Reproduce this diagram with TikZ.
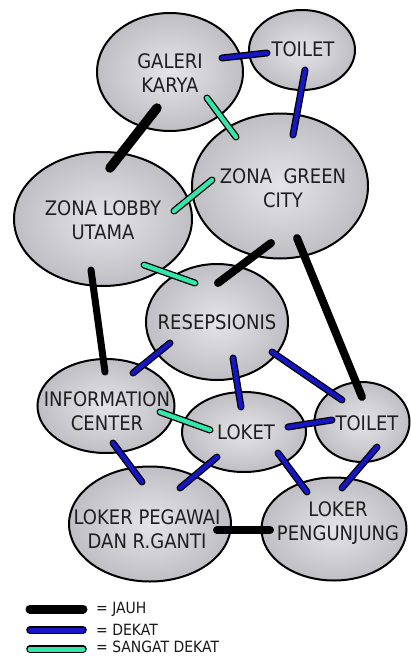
\documentclass[tikz,border=0pt]{standalone}
\usepackage{fontspec}
\setmainfont[FakeStretch=0.9]{DejaVu Sans}
\usetikzlibrary{shapes.geometric}
\definecolor{dkblue}{RGB}{22,22,196}
\definecolor{teal2}{RGB}{52,230,170}
\definecolor{blobin}{RGB}{228,228,232}
\definecolor{blobout}{RGB}{190,190,196}
\tikzset{
  blob/.style={ellipse, draw=black, line width=2pt, inner sep=0pt,
    inner color=blobin, outer color=blobout},
  lbl/.style={font=\fontsize{20}{24}\selectfont, align=center, inner sep=0pt, text=black!88},
  jauh/.style={draw=black, line width=8pt, line cap=round},
  dekat/.style={draw=black, line width=1.3pt, double=dkblue, double distance=4.4pt, line cap=round},
  sdekat/.style={draw=black, line width=1.3pt, double=teal2, double distance=4.4pt, line cap=round},
  legtxt/.style={font=\fontsize{15.5}{18}\selectfont, anchor=west, inner sep=0pt, text=black!90}
}
\begin{document}
\begin{tikzpicture}[x=1pt,y=-1pt]
\useasboundingbox (0,0) rectangle (411,656);
% ellipses
\node[blob, minimum width=146pt, minimum height=118pt] (gal) at (170,72) {};
\node[blob, minimum width=106pt, minimum height=80pt] (tt) at (302,50) {};
\node[blob, minimum width=176pt, minimum height=145pt] (grn) at (280,186) {};
\node[blob, minimum width=178pt, minimum height=134pt] (lob) at (103,219) {};
\node[blob, minimum width=142pt, minimum height=116pt] (res) at (217,322) {};
\node[blob, minimum width=137pt, minimum height=94pt] (inf) at (106,406) {};
\node[blob, minimum width=124pt, minimum height=80pt] (lok) at (244,432) {};
\node[blob, minimum width=95pt, minimum height=80pt] (tb) at (362,422) {};
\node[blob, minimum width=162pt, minimum height=115pt] (lpg) at (150,524) {};
\node[blob, minimum width=145pt, minimum height=103pt] (lpj) at (334,529) {};
% labels
\node[lbl] (galt) at (170,73) {GALERI\\KARYA};
\node[lbl] (ttt) at (303,49) {TOILET};
\node[lbl] (grnt) at (283,188) {ZONA~~GREEN\\CITY};
\node[lbl] (lobt) at (103,220) {ZONA LOBBY\\UTAMA};
\node[lbl] (rest) at (217,322) {RESEPSIONIS};
\node[lbl] (inft) at (107,411) {INFORMATION\\CENTER};
\node[lbl] (lokt) at (246,432) {LOKET};
\node[lbl] (tbt) at (367,423) {TOILET};
\node[lbl] (lpgt) at (147,529) {LOKER PEGAWAI\\DAN R.GANTI};
\node[lbl] (lpjt) at (338,523) {LOKER\\PENGUNJUNG};
% connector ends
\coordinate (a1) at (222,58);  \coordinate (a2) at (267,53);
\coordinate (b1) at (305,70);  \coordinate (b2) at (293,135);
\coordinate (c1) at (207,98);  \coordinate (c2) at (236,137);
\coordinate (d1) at (157,108); \coordinate (d2) at (110,168);
\coordinate (e1) at (174,211); \coordinate (e2) at (212,180);
\coordinate (f1) at (144,265); \coordinate (f2) at (195,283);
\coordinate (g1) at (271,243); \coordinate (g2) at (218,283);
\coordinate (h1) at (297,238); \coordinate (h2) at (362,397);
\coordinate (i1) at (91,270);  \coordinate (i2) at (105,372);
\coordinate (j1) at (170,343); \coordinate (j2) at (133,373);
\coordinate (k1) at (233,358); \coordinate (k2) at (241,407);
\coordinate (l1) at (272,352); \coordinate (l2) at (342,400);
\coordinate (m1) at (160,412); \coordinate (m2) at (210,430);
\coordinate (n1) at (288,427); \coordinate (n2) at (332,420);
\coordinate (o1) at (113,443); \coordinate (o2) at (142,482);
\coordinate (p1) at (217,457); \coordinate (p2) at (180,488);
\coordinate (q1) at (278,453); \coordinate (q2) at (307,492);
\coordinate (r1) at (377,447); \coordinate (r2) at (342,488);
\coordinate (s1) at (217,530); \coordinate (s2) at (270,530);
% connectors
\draw[dekat] (a1) -- (a2);
\draw[dekat] (b1) -- (b2);
\draw[sdekat] (c1) -- (c2);
\draw[jauh, line width=9.5pt] (d1) -- (d2);
\draw[sdekat] (e1) -- (e2);
\draw[sdekat] (f1) -- (f2);
\draw[jauh] (g1) -- (g2);
\draw[jauh] (h1) -- (h2);
\draw[jauh, line width=7pt] (i1) -- (i2);
\draw[dekat] (j1) -- (j2);
\draw[dekat] (k1) -- (k2);
\draw[dekat] (l1) -- (l2);
\draw[sdekat] (m1) -- (m2);
\draw[dekat] (n1) -- (n2);
\draw[dekat] (o1) -- (o2);
\draw[dekat] (p1) -- (p2);
\draw[dekat] (q1) -- (q2);
\draw[dekat] (r1) -- (r2);
\draw[jauh] (s1) -- (s2);
% legend
\coordinate (la1) at (30,609); \coordinate (la2) at (83,609);
\coordinate (lb1) at (30,630); \coordinate (lb2) at (83,630);
\coordinate (lc1) at (30,649); \coordinate (lc2) at (83,649);
\draw[jauh, line width=9pt] (la1) -- (la2);
\draw[dekat, double distance=5pt] (lb1) -- (lb2);
\draw[sdekat, double distance=5pt] (lc1) -- (lc2);
\node[legtxt] (lta) at (96,609) {= JAUH};
\node[legtxt] (ltb) at (96,629.5) {= DEKAT};
\node[legtxt] (ltc) at (96,647) {= SANGAT DEKAT};
\end{tikzpicture}
\end{document}
